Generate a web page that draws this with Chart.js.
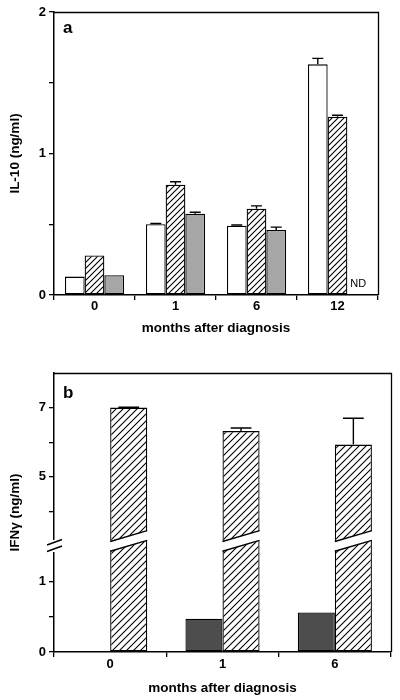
<!DOCTYPE html>
<html>
<head>
<meta charset="utf-8">
<script src="https://cdn.jsdelivr.net/npm/chart.js@4/dist/chart.umd.min.js"></script>
<style>
  body { margin: 0; background: #fff; }
  canvas { position: absolute; left: 0; }
  #chartA { top: 0; }
  #chartB { top: 350px; }
</style>
</head>
<body>
<canvas id="chartA" width="400" height="345"></canvas>
<canvas id="chartB" width="400" height="350"></canvas>
<script>
// panel a: IL-10
const monthsA = ['0', '1', '6', '12'];
const il10Open = [0.13, 0.50, 0.49, 1.63];
const il10OpenErr = [0, 0.005, 0.005, 0.042];
const il10Hatch = [0.28, 0.78, 0.61, 1.26];
const il10HatchErr = [0, 0.02, 0.02, 0.01];
const il10Gray = [0.14, 0.575, 0.46, null];   // 12 months: ND
const il10GrayErr = [0, 0.01, 0.02, 0];
const il10Labels = [0, 1, 2];

// panel b: IFNγ (broken axis)
const monthsB = ['0', '1', '6'];
const ifnDark = [null, 0.47, 0.56];
const ifnHatch = [7.0, 6.32, 5.93];
const ifnHatchErr = [0.01, 0.09, 0.76];
const ifnTicks = [0, 0.5, 1, 4, 5, 6, 7];
const ifnLabels = [0, 1, 5, 7];
const breakLo = 1.5, breakHi = 3;   // values between are cut out

Chart.defaults.font.family = '"Liberation Sans", Arial, Helvetica, sans-serif';
Chart.defaults.font.weight = 'bold';
Chart.defaults.font.size = 13;
Chart.defaults.color = '#000';

// linear scale with a gap between breakLo and breakHi
class BrokenScale extends Chart.LinearScale {
  static id = 'broken';
  static defaults = Chart.LinearScale.defaults;
  lowH() { return (this.bottom - this.top) * 0.38; }
  getPixelForValue(v) {
    const lh = this.lowH();
    if (v <= breakLo) return this.bottom - v / breakLo * lh;
    if (v < breakHi) return this.bottom - lh;
    return this.bottom - lh - (v - breakHi) / (this.max - breakHi) * (this.bottom - this.top - lh);
  }
  getValueForPixel(p) {
    const lh = this.lowH(), joint = this.bottom - lh;
    if (p >= joint) return (this.bottom - p) / lh * breakLo;
    return breakHi + (joint - p) / (joint - this.top) * (this.max - breakHi);
  }
}
Chart.register(BrokenScale);

function hatch(size){
  const c = document.createElement('canvas');
  c.width = c.height = size;
  const g = c.getContext('2d');
  g.fillStyle = '#fff';
  g.fillRect(0, 0, size, size);
  g.strokeStyle = '#000';
  g.lineWidth = 1.1;
  g.beginPath();
  g.moveTo(0, size); g.lineTo(size, 0);
  g.moveTo(-1, 1); g.lineTo(1, -1);
  g.moveTo(size - 1, size + 1); g.lineTo(size + 1, size - 1);
  g.stroke();
  return g.createPattern(c, 'repeat');
}

const frame = {
  id: 'frame',
  afterDraw(chart){
    const {ctx, chartArea: a} = chart;
    ctx.save();
    ctx.strokeStyle = '#000';
    ctx.lineWidth = 1.3;
    ctx.beginPath();
    ctx.moveTo(Math.round(a.left), Math.round(a.top) + 0.5);
    ctx.lineTo(Math.round(a.right) + 0.5, Math.round(a.top) + 0.5);
    ctx.lineTo(Math.round(a.right) + 0.5, Math.round(a.bottom));
    ctx.stroke();
    ctx.restore();
  }
};

const errorBars = {
  id: 'errorBars',
  afterDatasetsDraw(chart){
    const ctx = chart.ctx, y = chart.scales.y;
    chart.data.datasets.forEach((ds, di) => {
      chart.getDatasetMeta(di).data.forEach((bar, i) => {
        const v = ds.data[i];
        if (v == null) {
          if (ds.ndLabel) {
            ctx.save();
            ctx.font = '11px "Liberation Sans", Arial, sans-serif';
            ctx.fillStyle = '#000';
            ctx.textAlign = 'center';
            ctx.textBaseline = 'middle';
            ctx.fillText(ds.ndLabel, bar.x + 1, y.bottom - 11);
            ctx.restore();
          }
          return;
        }
        const e = ds.errors ? ds.errors[i] : 0;
        if (!e) return;
        const top = y.getPixelForValue(v + e);
        const half = bar.width * 0.28;
        ctx.save();
        ctx.strokeStyle = '#000';
        ctx.lineWidth = 1.4;
        ctx.beginPath();
        ctx.moveTo(bar.x, bar.y);
        ctx.lineTo(bar.x, top);
        ctx.moveTo(bar.x - half, top);
        ctx.lineTo(bar.x + half, top);
        ctx.stroke();
        ctx.restore();
      });
    });
  }
};

const panelText = {
  id: 'panelText',
  afterDraw(chart, args, opts){
    const {ctx, chartArea: a} = chart;
    ctx.save();
    ctx.font = 'bold 17px "Liberation Sans", Arial, sans-serif';
    ctx.fillStyle = '#000';
    ctx.fillText(opts.text, a.left + 9, a.top + opts.dy);
    ctx.restore();
  }
};

// cuts the hatched bars and the y axis at the break
const axisBreak = {
  id: 'axisBreak',
  afterDraw(chart){
    const {ctx} = chart, y = chart.scales.y;
    const joint = y.getPixelForValue(breakLo);
    ctx.save();
    ctx.strokeStyle = '#000';
    ctx.lineWidth = 1.4;
    const meta = chart.getDatasetMeta(1);
    meta.data.forEach(bar => {
      const xl = bar.x - bar.width / 2, xr = bar.x + bar.width / 2;
      const yl = joint + 0.4, yr = joint - 10.5, h = 4.9;
      ctx.fillStyle = '#fff';
      ctx.beginPath();
      ctx.moveTo(xl - 1.5, yl - h); ctx.lineTo(xr + 1.5, yr - h);
      ctx.lineTo(xr + 1.5, yr + h); ctx.lineTo(xl - 1.5, yl + h);
      ctx.closePath();
      ctx.fill();
      ctx.beginPath();
      ctx.moveTo(xl, yl - h); ctx.lineTo(xr, yr - h);
      ctx.moveTo(xl, yl + h); ctx.lineTo(xr, yr + h);
      ctx.stroke();
    });
    const ax = y.right;
    ctx.fillStyle = '#fff';
    ctx.fillRect(ax - 3, joint - 6, 6, 12);
    ctx.beginPath();
    ctx.moveTo(ax - 7, joint - 1); ctx.lineTo(ax + 8, joint - 6.5);
    ctx.moveTo(ax - 7, joint + 5.5); ctx.lineTo(ax + 8, joint);
    ctx.stroke();
    ctx.restore();
  }
};

const baseBar = { borderColor: '#000', borderWidth: 1.3, borderSkipped: false, barPercentage: 1 };
const titleFont = { size: 13.5, weight: 'bold' };

function xAxis(title, tickPad, titlePad, height){
  return {
    grid: { drawOnChartArea: false, color: '#000', tickLength: 5, lineWidth: 1.3 },
    border: { color: '#000', width: 1.5 },
    ticks: { padding: tickPad },
    title: { display: true, text: title, font: titleFont, padding: { top: 0, bottom: titlePad } },
    afterFit: s => { s.height = height; }
  };
}

new Chart(document.getElementById('chartA'), {
  type: 'bar',
  data: {
    labels: monthsA,
    datasets: [
      { data: il10Open, errors: il10OpenErr, backgroundColor: '#fff' },
      { data: il10Hatch, errors: il10HatchErr, backgroundColor: hatch(6) },
      { data: il10Gray, errors: il10GrayErr, backgroundColor: '#a6a6a6', ndLabel: 'ND' }
    ]
  },
  options: {
    responsive: false, animation: false, events: [],
    layout: { padding: { top: 12, right: 22, left: 0, bottom: 0 } },
    datasets: { bar: { ...baseBar, categoryPercentage: 0.73 } },
    plugins: { legend: { display: false }, tooltip: { enabled: false }, panelText: { text: 'a', dy: 21 } },
    scales: {
      x: xAxis('months after diagnosis', -1, 9, 50),
      y: {
        min: 0, max: 2,
        grid: { drawOnChartArea: false, color: '#000', tickLength: 5, lineWidth: 1.3 },
        border: { color: '#000', width: 1.5 },
        ticks: { stepSize: 0.5, padding: 3, callback: v => il10Labels.includes(v) ? v : '' },
        title: { display: true, text: 'IL-10 (ng/ml)', font: titleFont, padding: { top: 7, bottom: 0 } },
        afterFit: s => { s.width = 54; }
      }
    }
  },
  plugins: [frame, errorBars, panelText]
});

new Chart(document.getElementById('chartB'), {
  type: 'bar',
  data: {
    labels: monthsB,
    datasets: [
      { data: ifnDark, backgroundColor: '#4d4d4d' },
      { data: ifnHatch, errors: ifnHatchErr, backgroundColor: hatch(7) }
    ]
  },
  options: {
    responsive: false, animation: false, events: [],
    layout: { padding: { top: 23, right: 9, left: 0, bottom: 0 } },
    datasets: { bar: { ...baseBar, categoryPercentage: 0.66 } },
    plugins: { legend: { display: false }, tooltip: { enabled: false }, panelText: { text: 'b', dy: 25 } },
    scales: {
      x: xAxis('months after diagnosis', 0, 4, 48),
      y: {
        type: 'broken',
        min: 0, max: 8,
        grid: { drawOnChartArea: false, color: '#000', tickLength: 5, lineWidth: 1.3 },
        border: { color: '#000', width: 1.5 },
        afterBuildTicks: s => { s.ticks = ifnTicks.map(v => ({ value: v })); },
        ticks: { padding: 3, callback: v => ifnLabels.includes(v) ? v : '' },
        title: { display: true, text: 'IFNγ (ng/ml)', font: titleFont, padding: { top: 7, bottom: 0 } },
        afterFit: s => { s.width = 54; }
      }
    }
  },
  plugins: [frame, errorBars, axisBreak, panelText]
});
</script>
</body>
</html>
